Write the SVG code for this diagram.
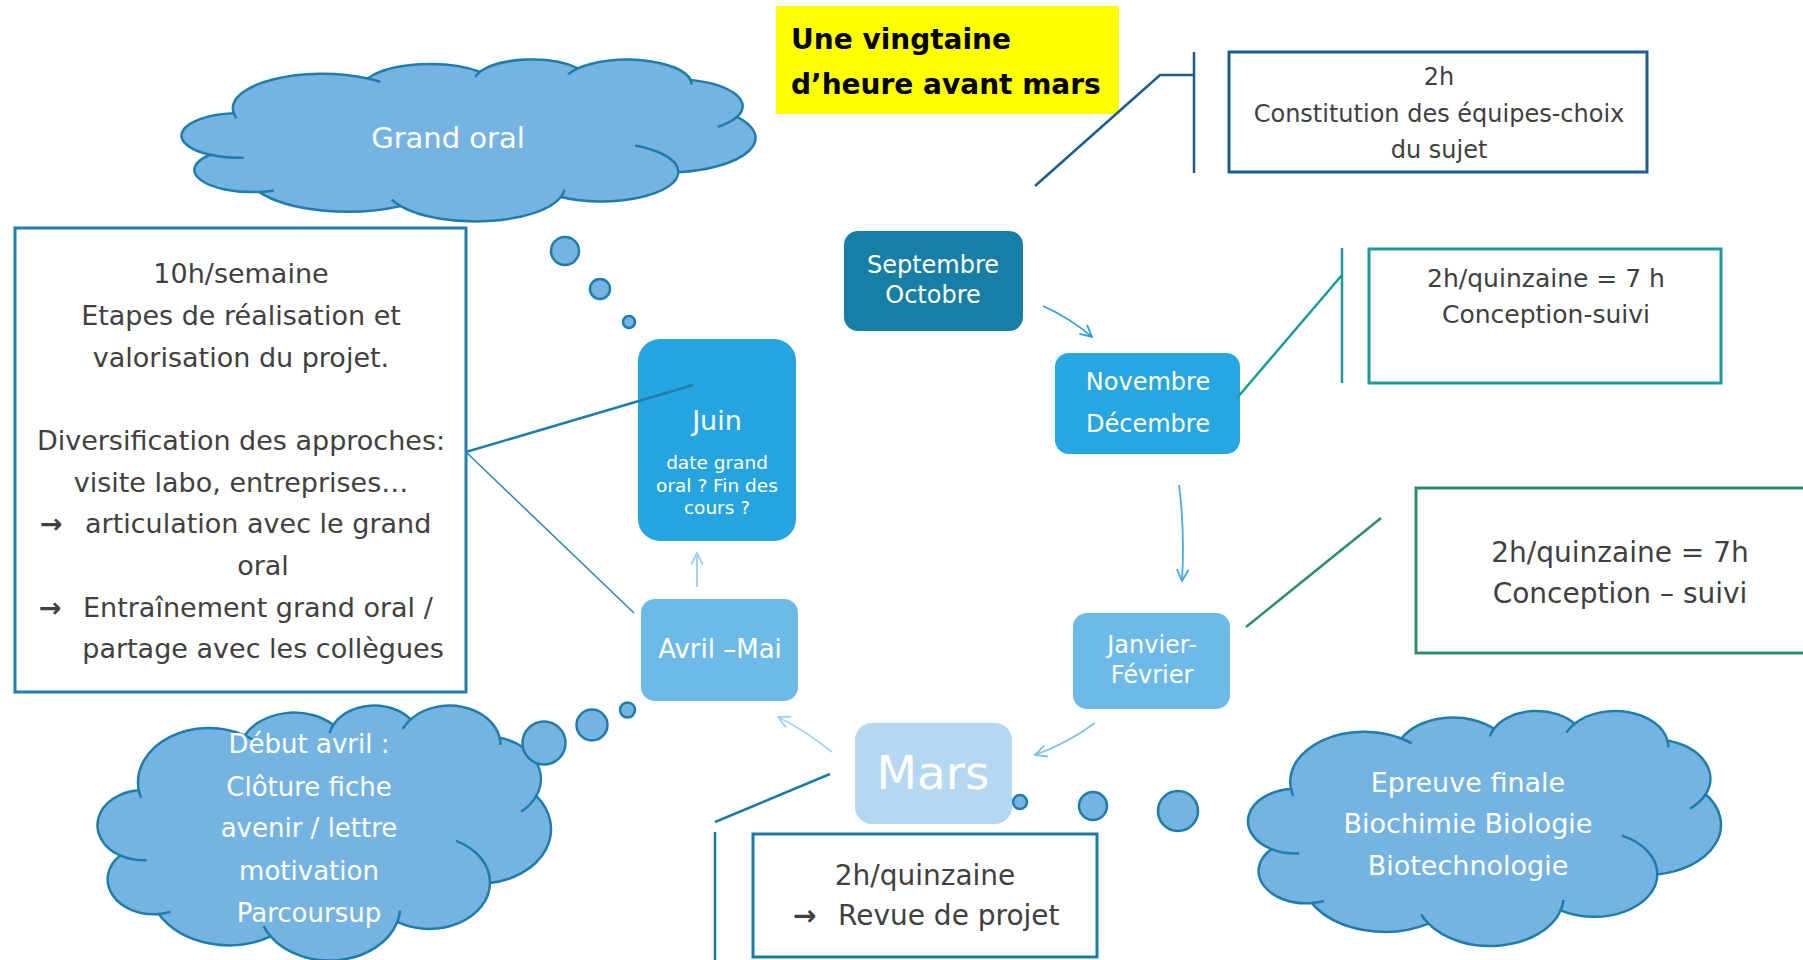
<svg xmlns="http://www.w3.org/2000/svg" width="1803" height="960" viewBox="0 0 1803 960">
<style>
.t{font-family:"DejaVu Sans","Liberation Sans",sans-serif;fill:#404040}
.w{font-family:"DejaVu Sans","Liberation Sans",sans-serif;fill:#ffffff}
.m{text-anchor:middle}
.cb{fill:#75B4E2;stroke:#1E7DA9;stroke-width:2.5}
.cc{fill:none;stroke:#1E7DA9;stroke-width:2.5}
.bub{fill:#75B4E2;stroke:#1E7DA9;stroke-width:2.5}
.frame{fill:none;stroke-width:3}
.ln{fill:none;stroke-width:2.5}
.thin{fill:none;stroke-width:1.5}
.ar{fill:none;stroke-width:1.8}
.arw{font-weight:bold}
</style>
<defs>
<marker id="a1" viewBox="0 0 12 12" refX="11" refY="6" markerWidth="14" markerHeight="14" markerUnits="userSpaceOnUse" orient="auto"><path d="M1 1 L11 6 L1 11" fill="none" stroke="#35A0DA" stroke-width="1.6"/></marker>
<marker id="a2" viewBox="0 0 12 12" refX="11" refY="6" markerWidth="14" markerHeight="14" markerUnits="userSpaceOnUse" orient="auto"><path d="M1 1 L11 6 L1 11" fill="none" stroke="#4AABE2" stroke-width="1.6"/></marker>
<marker id="a3" viewBox="0 0 12 12" refX="11" refY="6" markerWidth="14" markerHeight="14" markerUnits="userSpaceOnUse" orient="auto"><path d="M1 1 L11 6 L1 11" fill="none" stroke="#80C0EA" stroke-width="1.6"/></marker>
<marker id="a4" viewBox="0 0 12 12" refX="11" refY="6" markerWidth="14" markerHeight="14" markerUnits="userSpaceOnUse" orient="auto"><path d="M1 1 L11 6 L1 11" fill="none" stroke="#A9D2F0" stroke-width="1.6"/></marker>
<marker id="a5" viewBox="0 0 12 12" refX="11" refY="6" markerWidth="14" markerHeight="14" markerUnits="userSpaceOnUse" orient="auto"><path d="M1 1 L11 6 L1 11" fill="none" stroke="#9DCDEF" stroke-width="1.6"/></marker>
</defs>
<rect width="1803" height="960" fill="#ffffff"/>

<g id="title">
<rect x="776" y="6" width="343" height="108" fill="#FFFF00"/>
<text x="791" y="49" font-family="DejaVu Sans, Liberation Sans, sans-serif" font-weight="bold" font-size="28" fill="#000">Une vingtaine</text>
<text x="791" y="94" font-family="DejaVu Sans, Liberation Sans, sans-serif" font-weight="bold" font-size="28" fill="#000">d’heure avant mars</text>
</g>

<g id="cloud-grand-oral">
<g transform="translate(181.9 58.97) scale(5.734 1.619)">
<path class="cb" vector-effect="non-scaling-stroke" d="M9.028 33.264 A15.632 21.273 0 0 1 32.419 12.043 A12.345 16.822 0 0 1 51.981 7.942 A10.104 13.762 0 0 1 69.058 5.743 A11.243 15.266 0 0 1 88.698 12.910 A12.345 16.836 0 0 1 96.798 35.788 A15.683 21.343 0 0 1 86.579 69.914 A13.391 18.211 0 0 1 66.103 85.222 A15.630 21.331 0 0 1 38.148 90.896 A17.870 24.405 0 0 1 13.452 82.110 A10.093 13.699 0 0 1 4.905 59.143 A10.058 13.762 0 0 1 8.960 33.581 Z"/>
<path class="cc" vector-effect="non-scaling-stroke" d="M10.77 60.99 A10.058 13.762 0 0 1 4.905 59.143 M16.02 81.23 A10.093 13.699 0 0 1 13.452 82.110 M38.148 90.896 A15.630 21.331 0 0 1 36.61 86.87 M66.72 80.80 A15.630 21.331 0 0 1 66.103 85.222 M79.06 53.40 A13.391 18.211 0 0 1 86.579 69.914 M96.798 35.788 A12.345 16.836 0 0 1 93.44 41.98 M88.698 12.910 A11.243 15.266 0 0 1 88.875 15.836 M67.34 9.48 A11.243 15.266 0 0 1 69.058 5.743 M51.15 11.16 A10.104 13.762 0 0 1 51.981 7.942 M32.419 12.043 A15.632 21.273 0 0 1 34.56 14.10 M9.55 36.55 A15.632 21.273 0 0 1 9.028 33.264"/>
</g>
<text class="w m" x="448" y="148" font-size="29">Grand oral</text>
<circle class="bub" cx="565" cy="251" r="14"/>
<circle class="bub" cx="600" cy="289" r="10"/>
<circle class="bub" cx="629" cy="322" r="6"/>
</g>

<g id="cloud-debut-avril">
<g transform="translate(97.8 704.7) scale(4.53 2.549)">
<path class="cb" vector-effect="non-scaling-stroke" d="M9.028 33.264 A15.632 21.273 0 0 1 32.419 12.043 A12.345 16.822 0 0 1 51.981 7.942 A10.104 13.762 0 0 1 69.058 5.743 A11.243 15.266 0 0 1 88.698 12.910 A12.345 16.836 0 0 1 96.798 35.788 A15.683 21.343 0 0 1 86.579 69.914 A13.391 18.211 0 0 1 66.103 85.222 A15.630 21.331 0 0 1 38.148 90.896 A17.870 24.405 0 0 1 13.452 82.110 A10.093 13.699 0 0 1 4.905 59.143 A10.058 13.762 0 0 1 8.960 33.581 Z"/>
<path class="cc" vector-effect="non-scaling-stroke" d="M10.77 60.99 A10.058 13.762 0 0 1 4.905 59.143 M16.02 81.23 A10.093 13.699 0 0 1 13.452 82.110 M38.148 90.896 A15.630 21.331 0 0 1 36.61 86.87 M66.72 80.80 A15.630 21.331 0 0 1 66.103 85.222 M79.06 53.40 A13.391 18.211 0 0 1 86.579 69.914 M96.798 35.788 A12.345 16.836 0 0 1 93.44 41.98 M88.698 12.910 A11.243 15.266 0 0 1 88.875 15.836 M67.34 9.48 A11.243 15.266 0 0 1 69.058 5.743 M51.15 11.16 A10.104 13.762 0 0 1 51.981 7.942 M32.419 12.043 A15.632 21.273 0 0 1 34.56 14.10 M9.55 36.55 A15.632 21.273 0 0 1 9.028 33.264"/>
</g>
<circle class="bub" cx="544" cy="743" r="21.5"/>
<circle class="bub" cx="592" cy="725" r="15.5"/>
<circle class="bub" cx="627.5" cy="710" r="7.5"/>
<g class="w m" font-size="26">
<text x="309" y="753">Début avril :</text>
<text x="309" y="796">Clôture fiche</text>
<text x="309" y="837">avenir / lettre</text>
<text x="309" y="880">motivation</text>
<text x="309" y="922">Parcoursup</text>
</g>
</g>

<g id="cloud-epreuve">
<g transform="translate(1248.3 710.2) scale(4.725 2.349)">
<path class="cb" vector-effect="non-scaling-stroke" d="M9.028 33.264 A15.632 21.273 0 0 1 32.419 12.043 A12.345 16.822 0 0 1 51.981 7.942 A10.104 13.762 0 0 1 69.058 5.743 A11.243 15.266 0 0 1 88.698 12.910 A12.345 16.836 0 0 1 96.798 35.788 A15.683 21.343 0 0 1 86.579 69.914 A13.391 18.211 0 0 1 66.103 85.222 A15.630 21.331 0 0 1 38.148 90.896 A17.870 24.405 0 0 1 13.452 82.110 A10.093 13.699 0 0 1 4.905 59.143 A10.058 13.762 0 0 1 8.960 33.581 Z"/>
<path class="cc" vector-effect="non-scaling-stroke" d="M10.77 60.99 A10.058 13.762 0 0 1 4.905 59.143 M16.02 81.23 A10.093 13.699 0 0 1 13.452 82.110 M38.148 90.896 A15.630 21.331 0 0 1 36.61 86.87 M66.72 80.80 A15.630 21.331 0 0 1 66.103 85.222 M79.06 53.40 A13.391 18.211 0 0 1 86.579 69.914 M96.798 35.788 A12.345 16.836 0 0 1 93.44 41.98 M88.698 12.910 A11.243 15.266 0 0 1 88.875 15.836 M67.34 9.48 A11.243 15.266 0 0 1 69.058 5.743 M51.15 11.16 A10.104 13.762 0 0 1 51.981 7.942 M32.419 12.043 A15.632 21.273 0 0 1 34.56 14.10 M9.55 36.55 A15.632 21.273 0 0 1 9.028 33.264"/>
</g>
<circle class="bub" cx="1020" cy="802" r="7"/>
<circle class="bub" cx="1093" cy="806" r="14"/>
<circle class="bub" cx="1178" cy="811" r="20"/>
<g class="w m" font-size="27">
<text x="1468" y="792">Epreuve finale</text>
<text x="1468" y="833">Biochimie Biologie</text>
<text x="1468" y="875">Biotechnologie</text>
</g>
</g>

<g id="box-10h">
<rect class="frame" x="15" y="228" width="451" height="464" stroke="#1F80AB"/>
<g class="t" font-size="27">
<text class="m" x="241" y="283">10h/semaine</text>
<text class="m" x="241" y="325">Etapes de réalisation et</text>
<text class="m" x="241" y="367">valorisation du projet.</text>
<text class="m" x="241" y="450">Diversification des approches:</text>
<text class="m" x="241" y="492">visite labo, entreprises…</text>
<text class="arw" x="40" y="533">→</text>
<text x="85" y="533">articulation avec le grand</text>
<text class="m" x="263" y="575">oral</text>
<text class="arw" x="39" y="617">→</text>
<text x="83" y="617">Entraînement grand oral /</text>
<text class="m" x="263" y="658">partage avec les collègues</text>
</g>
</g>

<g id="box-constitution">
<rect class="frame" x="1229" y="52" width="418" height="120" stroke="#1F5C8E"/>
<g class="t m" font-size="24">
<text x="1439" y="85">2h</text>
<text x="1439" y="122">Constitution des équipes-choix</text>
<text x="1439" y="158">du sujet</text>
</g>
</g>

<g id="box-conception-1">
<rect class="frame" x="1369" y="249" width="352" height="134" stroke="#1E9A9B"/>
<g class="t m" font-size="25">
<text x="1546" y="287">2h/quinzaine = 7 h</text>
<text x="1546" y="323">Conception-suivi</text>
</g>
</g>

<g id="box-conception-2">
<rect class="frame" x="1416" y="488" width="420" height="165" stroke="#2E8B6E"/>
<g class="t m" font-size="28">
<text x="1620" y="562">2h/quinzaine = 7h</text>
<text x="1620" y="603">Conception – suivi</text>
</g>
</g>

<g id="box-revue">
<rect class="frame" x="753" y="834" width="344" height="123" stroke="#1B7BA6"/>
<g class="t" font-size="28">
<text class="m" x="925" y="885">2h/quinzaine</text>
<text class="arw" x="793" y="925">→</text>
<text x="838" y="925">Revue de projet</text>
</g>
</g>

<g id="node-sept">
<rect x="844" y="231" width="179" height="100" rx="14" fill="#177FA7"/>
<g class="w m" font-size="24">
<text x="933" y="273">Septembre</text>
<text x="933" y="303">Octobre</text>
</g>
</g>

<g id="node-nov">
<rect x="1055" y="353" width="185" height="101" rx="14" fill="#27A6E1"/>
<g class="w m" font-size="24">
<text x="1148" y="390">Novembre</text>
<text x="1148" y="432">Décembre</text>
</g>
</g>

<g id="node-jan">
<rect x="1073" y="613" width="157" height="96" rx="14" fill="#6DBAE8"/>
<g class="w m" font-size="24">
<text x="1152" y="653">Janvier-</text>
<text x="1152" y="683">Février</text>
</g>
</g>

<g id="node-mars">
<rect x="855" y="723" width="157" height="101" rx="17" fill="#B4D8F1"/>
<text class="w m" x="933" y="789" font-size="47">Mars</text>
</g>

<g id="node-avril">
<rect x="641" y="599" width="157" height="102" rx="14" fill="#6DBAE8"/>
<text class="w m" x="720" y="658" font-size="26">Avril –Mai</text>
</g>

<g id="node-juin">
<rect x="638" y="339" width="158" height="202" rx="22" fill="#26A4E0"/>
<text class="w m" x="717" y="430" font-size="27">Juin</text>
<g class="w m" font-size="18.5">
<text x="717" y="469">date grand</text>
<text x="717" y="492">oral ? Fin des</text>
<text x="717" y="514">cours ?</text>
</g>
</g>

<g id="connectors">
<path class="ar" d="M1043 306 Q1070 318 1092 337" stroke="#35A0DA" marker-end="url(#a1)"/>
<path class="ar" d="M1179 485 Q1185 532 1182 581" stroke="#4AABE2" marker-end="url(#a2)"/>
<path class="ar" d="M1095 723 Q1068 743 1035 755" stroke="#80C0EA" marker-end="url(#a3)"/>
<path class="ar" d="M832 752 Q803 729 778 717" stroke="#A9D2F0" marker-end="url(#a4)"/>
<path class="ar" d="M697 587 L697 553" stroke="#9DCDEF" marker-end="url(#a5)"/>
<path class="ln" d="M466 452 L693 385" stroke="#1F7FAA"/>
<path class="thin" d="M466 452 L634 613" stroke="#2C86B0"/>
<path class="ln" d="M1035 186 L1160 75 L1194 75 M1194 52 L1194 173" stroke="#1F5C8E"/>
<path class="ln" d="M1342 248 L1342 383 M1342 275 L1237 398" stroke="#1E9A9B"/>
<path class="ln" d="M1381 518 L1246 627" stroke="#2E8B6E"/>
<path class="ln" d="M715 832 L715 960 M715 822 L830 774" stroke="#1B7BA6"/>
</g>
</svg>
